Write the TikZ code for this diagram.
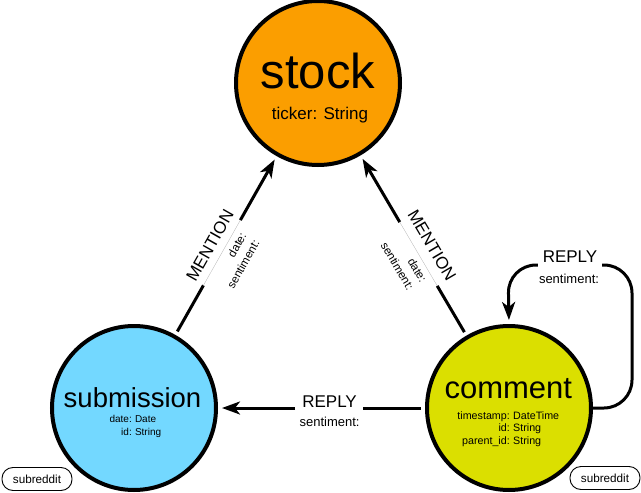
\documentclass[tikz,border=0pt]{standalone}
\usepackage{fontspec}
\setmainfont{Liberation Sans}
\usetikzlibrary{arrows.meta,calc}

\definecolor{stockfill}{HTML}{FB9E00}
\definecolor{subfill}{HTML}{73D8FF}
\definecolor{comfill}{HTML}{DBDF00}

\newcommand{\fsz}[1]{\fontsize{#1}{#1}\selectfont}

\tikzset{
  entity/.style={circle, draw=black, line width=4pt, minimum size=164pt, inner sep=0pt},
  title/.style={inner sep=0pt},
  props/.style={inner sep=0pt},
  link/.style={line width=3pt, shorten <=4pt},
  linkarrow/.style={link, -{Stealth[length=18pt,width=13pt,inset=5pt]}, shorten >=4pt},
  hairline/.style={line width=0.3pt, black!30},
  reltype/.style={font=\fsz{17}, inner sep=0pt},
  relprops/.style={font=\fontsize{11.5}{15}\selectfont, inner sep=0pt, align=right},
  tag/.style={draw, line width=0.9pt, rounded corners=11pt, minimum width=70pt,
    minimum height=23pt, inner sep=0pt, font=\fsz{11.7}}
}

\begin{document}
\begin{tikzpicture}[x=1pt, y=-1pt]
\useasboundingbox (0,0) rectangle (641,493);

% entities
\node[entity, fill=stockfill] (stock) at (318,83) {};
\node[entity, fill=subfill] (submission) at (134,408) {};
\node[entity, fill=comfill] (comment) at (509,408) {};

\node[title, font=\fsz{49}, anchor=base] (stocktitle) at ($(stock)+(0,5)$) {stock};
\node[props, font=\fsz{17}, anchor=base] (stockprop) at ($(stock)+(2,36)$) {ticker: String};

\node[title, font=\fsz{27.5}, anchor=base] (subtitle) at ($(submission)+(-1.5,-1)$) {submission};
\node[props, font=\fontsize{10}{12.5}\selectfont, anchor=base east] (subkeys) at ($(submission)+(-2,14.5)$)
  {\begin{tabular}[t]{@{}r@{}}date:\\id:\end{tabular}};
\node[props, font=\fontsize{10}{12.5}\selectfont, anchor=base west] (subvals) at ($(submission)+(0.8,14.5)$)
  {\begin{tabular}[t]{@{}l@{}}Date\\String\end{tabular}};

\node[title, font=\fsz{31}, anchor=base] (comtitle) at ($(comment)+(-0.7,-10)$) {comment};
\node[props, font=\fontsize{10.7}{12.5}\selectfont, anchor=base east] (comkeys) at ($(comment)+(1,11)$)
  {\begin{tabular}[t]{@{}r@{}}timestamp:\\id:\\parent\_id:\end{tabular}};
\node[props, font=\fontsize{10.7}{12.5}\selectfont, anchor=base west] (comvals) at ($(comment)+(4,11)$)
  {\begin{tabular}[t]{@{}l@{}}DateTime\\String\\String\end{tabular}};

% MENTION submission -> stock
\path (submission) -- (stock)
  coordinate[pos=0.277] (m1a) coordinate[pos=0.642] (m1b)
  node[pos=0.462, sloped, reltype, anchor=south, outer sep=8pt] (m1lab) {MENTION}
  node[pos=0.462, sloped, relprops, anchor=north, outer sep=5pt] (m1prop) {date:\\sentiment:};
\draw[link] (submission) -- (m1a);
\draw[hairline] (m1a) -- (m1b);
\draw[linkarrow, shorten <=0pt] (m1b) -- (stock);

% MENTION comment -> stock
\path (comment) -- (stock)
  coordinate[pos=0.276] (m2a) coordinate[pos=0.63] (m2b)
  node[pos=0.455, sloped, reltype, anchor=south, outer sep=10pt] (m2lab) {MENTION}
  node[pos=0.455, sloped, relprops, anchor=north, outer sep=5pt] (m2prop) {date:\\sentiment:};
\draw[link] (comment) -- (m2a);
\draw[hairline] (m2a) -- (m2b);
\draw[linkarrow, shorten <=0pt] (m2b) -- (stock);

% REPLY comment -> submission
\path (comment) -- (submission)
  coordinate[pos=0.30] (r1a) coordinate[pos=0.628] (r1b)
  node[pos=0.461, reltype, anchor=south, outer sep=1pt] (r1lab) {REPLY}
  node[pos=0.461, relprops, font=\fsz{13}, anchor=north, outer sep=9pt] (r1prop) {sentiment:};
\draw[link] (comment) -- (r1a);
\draw[linkarrow, shorten <=0pt] (r1b) -- (submission);

% REPLY comment -> comment
\coordinate (loopse) at (632,408);
\coordinate (loopne) at (632,265);
\coordinate (loopnw) at (508,265);
\draw[linkarrow, shorten <=0pt, rounded corners=28pt]
  (comment.east) -- (loopse) -- (loopne) -- (loopnw) -- (comment.north);
\node[fill=white, minimum width=64pt, minimum height=8pt, inner sep=0pt] (loopgap) at (570,265) {};
\node[reltype, anchor=south] (r2lab) at (570,263) {REPLY};
\node[relprops, font=\fsz{13}, anchor=north] (r2prop) at (569,274) {sentiment:};

% tags
\node[tag] (subtag) at (37,479) {subreddit};
\node[tag] (comtag) at (605,478) {subreddit};
\end{tikzpicture}
\end{document}
